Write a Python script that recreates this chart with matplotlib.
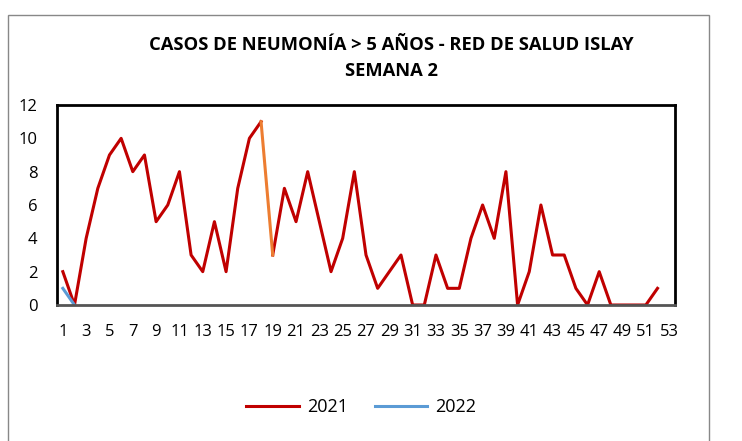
import matplotlib.pyplot as plt
from matplotlib.patches import Rectangle
from matplotlib.lines import Line2D

weeks = list(range(1, 53))
casos_2021 = [2, 0, 4, 7, 9, 10, 8, 9, 5, 6, 8, 3, 2, 5, 2, 7, 10, 11, 3, 7,
              5, 8, 5, 2, 4, 8, 3, 1, 2, 3, 0, 0, 3, 1, 1, 4, 6, 4, 8, 0,
              2, 6, 3, 3, 1, 0, 2, 0, 0, 0, 0, 1]
weeks_2022 = [1, 2]
casos_2022 = [1, 0]
title = 'CASOS DE NEUMONÍA > 5 AÑOS - RED DE SALUD ISLAY\nSEMANA 2'

red = '#C00000'
orange = '#ED7D31'
blue = '#5B9BD5'

plt.rcParams['font.family'] = ['Open Sans', 'DejaVu Sans']

fig = plt.figure(figsize=(7.42, 4.41), dpi=100)
ax = fig.add_axes([57 / 742, 1 - 305 / 441, 618 / 742, 200 / 441])

ax.plot(weeks[:18], casos_2021[:18], color=red, linewidth=2.2)
ax.plot(weeks[18:], casos_2021[18:], color=red, linewidth=2.2)
# highlighted drop between week 18 and 19
ax.plot(weeks[17:19], casos_2021[17:19], color=orange, linewidth=2.2)
ax.plot(weeks_2022, casos_2022, color=blue, linewidth=2.2)

ax.set_xlim(0.5, 53.5)
ax.set_ylim(0, 12)
ax.set_xticks(range(1, 54, 2))
ax.set_yticks(range(0, 13, 2))
ax.tick_params(length=0, labelsize=12)
ax.tick_params(axis='x', pad=14)
ax.tick_params(axis='y', pad=14)
for s in ['top', 'left', 'right']:
    ax.spines[s].set_linewidth(2)
    ax.spines[s].set_color('black')
ax.spines['bottom'].set_linewidth(2)
ax.spines['bottom'].set_color('#555555')

fig.text(0.527, 0.868, title, ha='center', va='center', fontsize=13.2,
         fontweight='bold', linespacing=1.55)

handles = [Line2D([], [], color=red, linewidth=2.2),
           Line2D([], [], color=blue, linewidth=2.2)]
fig.legend(handles, ['2021', '2022'], loc='center', ncol=2,
           bbox_to_anchor=(0.487, 0.077), frameon=False, fontsize=13,
           handlelength=2.9, handletextpad=0.45, columnspacing=1.5)

fig.patches.append(Rectangle((8 / 742, -0.05), 701 / 742, 1.05 - 15 / 441,
                             transform=fig.transFigure, fill=False,
                             edgecolor='#888888', linewidth=1))

fig.savefig('out.png', dpi=100)
